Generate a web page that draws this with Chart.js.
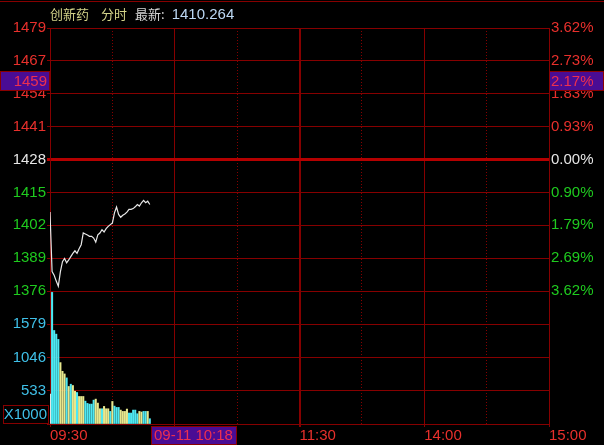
<!DOCTYPE html>
<html><head><meta charset="utf-8">
<script src="https://cdn.jsdelivr.net/npm/chart.js@4.4.1/dist/chart.umd.min.js"></script>
<style>
html,body{margin:0;padding:0;background:#000;width:604px;height:445px;overflow:hidden;}
#wrap{position:relative;width:604px;height:445px;}
canvas{position:absolute;left:0;top:0;}
#title{position:absolute;left:50px;top:4px;display:flex;align-items:baseline;white-space:pre;line-height:20px;}
.cjk{font-family:"Noto Sans CJK SC";font-size:13px;}
.num{font-family:"Liberation Sans",Arial,sans-serif;font-size:15px;}
</style></head><body>
<div id="wrap">
<canvas id="priceChart" width="604" height="445"></canvas>
<canvas id="volChart" width="604" height="445"></canvas>
<div id="title"><span class="cjk" style="color:#d4d48a">创新药</span><span class="cjk" style="color:#d4d48a;margin-left:12px">分时</span><span class="cjk" style="color:#d6d6d6;margin-left:8px">最新:</span><span class="num" style="color:#bcd8f4;margin-left:7px">1410.264</span></div>
</div>
<script>
// ---------- data ----------
const times = ['09:30','09:31','09:32','09:33','09:34','09:35','09:36','09:37','09:38','09:39',
  '09:40','09:41','09:42','09:43','09:44','09:45','09:46','09:47','09:48','09:49',
  '09:50','09:51','09:52','09:53','09:54','09:55','09:56','09:57','09:58','09:59',
  '10:00','10:01','10:02','10:03','10:04','10:05','10:06','10:07','10:08','10:09',
  '10:10','10:11','10:12','10:13','10:14','10:15','10:16','10:17','10:18'];
const prices = [1407.4,1383.9,1382.5,1380.2,1378.2,1383.9,1387.8,1389.1,1387.4,1388.5,
  1389.8,1391.1,1392.1,1391.1,1392.9,1394.5,1399.1,1398.7,1398.3,1397.8,
  1397.8,1397.1,1395.5,1398.4,1399.1,1400.4,1399.5,1400.8,1401.7,1402.4,
  1403.0,1407.0,1409.3,1406.4,1405.3,1406.1,1406.6,1407.3,1408.4,1408.4,
  1408.7,1409.4,1410.3,1409.7,1411.0,1411.9,1411.0,1411.6,1410.3];
const volumes = [474,2090,1485,1427,1343,975,837,795,732,596,
  632,611,521,500,437,437,437,363,327,316,
  316,379,395,332,242,242,279,242,242,200,
  358,284,263,263,221,200,200,237,174,174,
  221,221,163,200,190,200,200,200,84];
const volDir = [0,-1,-1,-1,-1,1,1,1,-1,1,
  -1,1,1,-1,1,1,1,-1,-1,-1,
  -1,-1,1,1,1,-1,1,1,1,-1,
  1,-1,-1,-1,1,1,1,1,-1,-1,
  -1,-1,-1,1,1,-1,-1,1,-1];
const priceBase = 1428.0;
const priceMin = 1376.3, priceMax = 1479.7;
const priceTickLabels = ['1376','1389','1402','1415','1428','1441','1454','1467','1479'];
const pctTickLabels = ['3.62%','2.69%','1.79%','0.90%','0.00%','0.93%','1.83%','2.73%','3.62%'];
const volMax = 2112;
const volTickLabels = ['','533','1046','1579',''];
const volUnitLabel = 'X1000';
const xLabelTimes = ['09:30','11:30','14:00','15:00'];
const xSolidTimes = ['09:30','10:30','11:30','14:00','15:00'];
const xDotTimes = ['10:00','11:00','13:30','14:30'];
const crossPrice = 1459, crossPriceLabel = '1459', crossPctLabel = '2.17%', crossTime = '10:18', crossTimeLabel = '09-11 10:18';

// ---------- helpers ----------
function toMin(t){const p=t.split(':').map(Number);let v=p[0]*60+p[1]-570;if(v>120)v-=90;return v;}
const GRID='#860000', BASE_LINE='#b40000';
const RED='#e8302c', GREEN='#1fcb1f', WHITE='#e6e6e6', CYAN='#3fc0e8';
const UPC='#e8e88e', DOWNC='#4ee8f2', FLATC='#e4e4e4';
const FAM='"Liberation Sans", Arial, sans-serif';
const FONT={family:FAM,size:15};
Chart.defaults.font.family=FAM;
const nTicks = priceTickLabels.length;
const priceTickVals = priceTickLabels.map((_,k)=>priceMin+k*(priceMax-priceMin)/(nTicks-1));
const baseIdx = priceTickLabels.indexOf('1428');
const labColor = i => i<baseIdx?GREEN:(i===baseIdx?WHITE:RED);
const solidVals = xSolidTimes.map(toMin);
const dotVals = xDotTimes.map(toMin);
const labelVals = xLabelTimes.map(toMin);

function box(ctx,x,y,w,h,text,align,tx){
  ctx.fillStyle='#4a0c94';ctx.fillRect(x,y,w,h);
  ctx.strokeStyle='#8a0000';ctx.lineWidth=1;ctx.strokeRect(x+0.5,y+0.5,w-1,h-1);
  ctx.fillStyle='#ec3050';ctx.font='15px '+FAM;ctx.textAlign=align;ctx.textBaseline='middle';
  ctx.fillText(text,tx,y+h/2+0.5);
}

const dotAxis = {type:'linear',min:0,max:240,position:'bottom',offset:false,
  afterBuildTicks:s=>{s.ticks=dotVals.map(v=>({value:v}));},
  ticks:{display:false},grid:{color:GRID,lineWidth:1,drawTicks:false,offset:false},
  border:{display:false,dash:[1,2]},afterFit:s=>{s.height=0;}};

// ---------- price chart ----------
new Chart(document.getElementById('priceChart'),{
  type:'line',
  data:{datasets:[{data:times.map((t,i)=>({x:toMin(t),y:prices[i]})),borderColor:'#e8e8e8',borderWidth:1.2,pointRadius:0,tension:0}]},
  options:{responsive:false,animation:false,events:[],
    layout:{padding:{top:28,bottom:154,left:0,right:0}},
    plugins:{legend:{display:false},tooltip:{enabled:false}},
    scales:{
      x:{type:'linear',min:0,max:240,offset:false,
        afterBuildTicks:s=>{s.ticks=solidVals.map(v=>({value:v}));},
        ticks:{display:false},
        grid:{color:GRID,lineWidth:c=>c.tick&&c.tick.value===120?2:1,drawTicks:false},
        border:{display:false},afterFit:s=>{s.height=0;}},
      xd:dotAxis,
      y:{position:'left',min:priceMin,max:priceMax,
        afterBuildTicks:s=>{s.ticks=priceTickVals.map(v=>({value:v}));},
        ticks:{font:FONT,padding:1,color:c=>labColor(c.index),callback:(v,i)=>priceTickLabels[i]},
        grid:{color:c=>c.index===baseIdx?BASE_LINE:GRID,lineWidth:c=>c.index===baseIdx?3:1,tickLength:3,
          tickColor:c=>c.index===baseIdx?BASE_LINE:GRID},
        border:{color:GRID},afterFit:s=>{s.width=50;}},
      yp:{position:'right',min:priceMin,max:priceMax,
        afterBuildTicks:s=>{s.ticks=priceTickVals.map(v=>({value:v}));},
        ticks:{font:FONT,padding:2,color:c=>labColor(c.index),callback:(v,i)=>pctTickLabels[i]},
        grid:{display:true,drawOnChartArea:false,drawTicks:false},
        border:{color:GRID},afterFit:s=>{s.width=55;}}
    }},
  plugins:[{id:'frameA',afterDraw(chart){
    const ctx=chart.ctx,ca=chart.chartArea,ys=chart.scales.y;
    ctx.save();
    ctx.strokeStyle=GRID;ctx.lineWidth=1;ctx.beginPath();ctx.moveTo(0,1.5);ctx.lineTo(chart.width,1.5);ctx.stroke();
    const cy=Math.round(ys.getPixelForValue(crossPrice));
    box(ctx,0,cy-10,ca.left,20,crossPriceLabel,'right',ca.left-3);
    box(ctx,ca.right,cy-10,chart.width-ca.right,20,crossPctLabel,'left',ca.right+2);
    ctx.restore();
  }}]
});

// ---------- volume chart ----------
new Chart(document.getElementById('volChart'),{
  type:'bar',
  data:{datasets:[{data:times.map((t,i)=>({x:toMin(t),y:volumes[i]})),
    backgroundColor:volDir.map(d=>d>0?UPC:(d<0?DOWNC:FLATC)),barThickness:1.4,borderWidth:0}]},
  options:{responsive:false,animation:false,events:[],
    layout:{padding:{top:291,bottom:0,left:0,right:55}},
    plugins:{legend:{display:false},tooltip:{enabled:false}},
    scales:{
      x:{type:'linear',min:0,max:240,offset:false,
        afterBuildTicks:s=>{s.ticks=solidVals.map(v=>({value:v}));},
        ticks:{display:true,align:'start',autoSkip:false,maxRotation:0,padding:0,font:FONT,color:RED,
          callback:v=>{const k=labelVals.indexOf(v);return k>=0?xLabelTimes[k]:'';}},
        grid:{color:GRID,lineWidth:c=>c.tick&&c.tick.value===120?2:1,tickLength:3,tickColor:GRID,offset:false},
        border:{color:GRID},afterFit:s=>{s.height=21;}},
      xd:dotAxis,
      y:{position:'left',min:0,max:volMax,
        afterBuildTicks:s=>{s.ticks=volTickLabels.map((_,k)=>({value:k*volMax/(volTickLabels.length-1)}));},
        ticks:{font:FONT,padding:1,color:CYAN,callback:(v,i)=>volTickLabels[i]},
        grid:{color:GRID,lineWidth:1,tickLength:3,tickColor:GRID},
        border:{color:GRID},afterFit:s=>{s.width=50;}}
    }},
  plugins:[{id:'frameB',afterDraw(chart){
    const ctx=chart.ctx,ca=chart.chartArea,xs=chart.scales.x;
    ctx.save();
    // unit box
    ctx.strokeStyle=GRID;ctx.lineWidth=1;ctx.strokeRect(3.5,ca.bottom-18.5,ca.left-5,18);
    ctx.fillStyle=CYAN;ctx.font='15px '+FAM;ctx.textAlign='right';ctx.textBaseline='middle';
    ctx.fillText(volUnitLabel,ca.left-3,ca.bottom-9);
    // crosshair time box
    const x0=Math.round(xs.getPixelForValue(toMin(crossTime)))+1;
    box(ctx,x0,ca.bottom+2,86,chart.height-ca.bottom-2,crossTimeLabel,'left',x0+3);
    ctx.restore();
  }}]
});
</script>
</body></html>
